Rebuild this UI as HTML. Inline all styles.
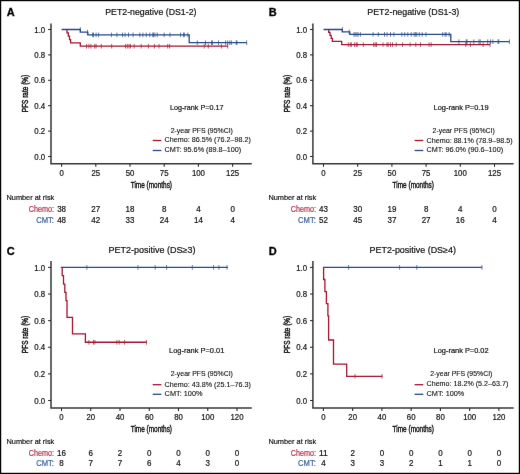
<!DOCTYPE html>
<html><head><meta charset="utf-8"><style>
html,body{margin:0;padding:0;background:#fff;}
#fig{position:relative;width:520px;height:474px;overflow:hidden;background:#fff;}
svg{position:absolute;left:0;top:0;will-change:transform;}
svg text{font-family:"Liberation Sans", sans-serif;}
</style></head><body><div id="fig">
<svg width="520" height="474" viewBox="0 0 520 474">
<defs><filter id="bl" x="0" y="0" width="1" height="1" filterUnits="objectBoundingBox" color-interpolation-filters="sRGB"><feConvolveMatrix order="3" kernelMatrix="0.00163 0.03713 0.00163 0.03713 0.84497 0.03713 0.00163 0.03713 0.00163" divisor="1" edgeMode="duplicate" preserveAlpha="true"/></filter></defs>
<g filter="url(#bl)">
<rect x="0" y="0" width="520" height="474" fill="#fff"/>
<rect x="0.6" y="0.6" width="518.8" height="472.8" fill="none" stroke="#000" stroke-width="1.2"/>
<text x="6.80" y="15.60" font-size="11" fill="#000" text-anchor="start" stroke="#000" stroke-width="0.3" font-weight="bold">A</text>
<text x="105.20" y="15.00" font-size="8.6" fill="#111" text-anchor="start" stroke="#111" stroke-width="0.2" textLength="91.30" lengthAdjust="spacingAndGlyphs">PET2-negative (DS1-2)</text>
<path d="M51.00,23.50 V163.75 H251.75" fill="none" stroke="#383838" stroke-width="1.5" stroke-linejoin="miter" stroke-linecap="butt"/>
<line x1="48.10" y1="156.50" x2="51.00" y2="156.50" stroke="#252525" stroke-width="1.05"/>
<text x="45.20" y="159.60" font-size="8.4" fill="#111" text-anchor="end" stroke="#111" stroke-width="0.2" textLength="10.90" lengthAdjust="spacingAndGlyphs">0.0</text>
<line x1="48.10" y1="131.10" x2="51.00" y2="131.10" stroke="#252525" stroke-width="1.05"/>
<text x="45.20" y="134.20" font-size="8.4" fill="#111" text-anchor="end" stroke="#111" stroke-width="0.2" textLength="10.90" lengthAdjust="spacingAndGlyphs">0.2</text>
<line x1="48.10" y1="105.70" x2="51.00" y2="105.70" stroke="#252525" stroke-width="1.05"/>
<text x="45.20" y="108.80" font-size="8.4" fill="#111" text-anchor="end" stroke="#111" stroke-width="0.2" textLength="10.90" lengthAdjust="spacingAndGlyphs">0.4</text>
<line x1="48.10" y1="80.30" x2="51.00" y2="80.30" stroke="#252525" stroke-width="1.05"/>
<text x="45.20" y="83.40" font-size="8.4" fill="#111" text-anchor="end" stroke="#111" stroke-width="0.2" textLength="10.90" lengthAdjust="spacingAndGlyphs">0.6</text>
<line x1="48.10" y1="54.90" x2="51.00" y2="54.90" stroke="#252525" stroke-width="1.05"/>
<text x="45.20" y="58.00" font-size="8.4" fill="#111" text-anchor="end" stroke="#111" stroke-width="0.2" textLength="10.90" lengthAdjust="spacingAndGlyphs">0.8</text>
<line x1="48.10" y1="29.50" x2="51.00" y2="29.50" stroke="#252525" stroke-width="1.05"/>
<text x="45.20" y="32.60" font-size="8.4" fill="#111" text-anchor="end" stroke="#111" stroke-width="0.2" textLength="10.90" lengthAdjust="spacingAndGlyphs">1.0</text>
<line x1="61.60" y1="163.75" x2="61.60" y2="166.85" stroke="#252525" stroke-width="1.05"/>
<text x="61.60" y="175.70" font-size="8.4" fill="#111" text-anchor="middle" stroke="#111" stroke-width="0.2" textLength="4.35" lengthAdjust="spacingAndGlyphs">0</text>
<line x1="95.80" y1="163.75" x2="95.80" y2="166.85" stroke="#252525" stroke-width="1.05"/>
<text x="95.80" y="175.70" font-size="8.4" fill="#111" text-anchor="middle" stroke="#111" stroke-width="0.2" textLength="8.70" lengthAdjust="spacingAndGlyphs">25</text>
<line x1="130.00" y1="163.75" x2="130.00" y2="166.85" stroke="#252525" stroke-width="1.05"/>
<text x="130.00" y="175.70" font-size="8.4" fill="#111" text-anchor="middle" stroke="#111" stroke-width="0.2" textLength="8.70" lengthAdjust="spacingAndGlyphs">50</text>
<line x1="164.20" y1="163.75" x2="164.20" y2="166.85" stroke="#252525" stroke-width="1.05"/>
<text x="164.20" y="175.70" font-size="8.4" fill="#111" text-anchor="middle" stroke="#111" stroke-width="0.2" textLength="8.70" lengthAdjust="spacingAndGlyphs">75</text>
<line x1="198.40" y1="163.75" x2="198.40" y2="166.85" stroke="#252525" stroke-width="1.05"/>
<text x="198.40" y="175.70" font-size="8.4" fill="#111" text-anchor="middle" stroke="#111" stroke-width="0.2" textLength="13.05" lengthAdjust="spacingAndGlyphs">100</text>
<line x1="232.60" y1="163.75" x2="232.60" y2="166.85" stroke="#252525" stroke-width="1.05"/>
<text x="232.60" y="175.70" font-size="8.4" fill="#111" text-anchor="middle" stroke="#111" stroke-width="0.2" textLength="13.05" lengthAdjust="spacingAndGlyphs">125</text>
<text x="151.38" y="188.00" font-size="9.0" fill="#111" text-anchor="middle" stroke="#111" stroke-width="0.42" textLength="41.30" lengthAdjust="spacingAndGlyphs">Time (months)</text>
<text x="0" y="0" font-size="9.2" fill="#111" stroke="#111" stroke-width="0.45" text-anchor="middle" textLength="37.4" lengthAdjust="spacingAndGlyphs" transform="translate(27.60,93.50) rotate(-90)">PFS rate (%)</text>
<path d="M67.00,29.50 H67.00 V32.84 H68.30 V36.18 H69.50 V39.53 H70.60 V42.87 H80.30 V46.21 H227.70" fill="none" stroke="#a3142f" stroke-width="1.3" stroke-linejoin="miter" stroke-linecap="butt"/>
<line x1="86.60" y1="43.86" x2="86.60" y2="48.56" stroke="#a3142f" stroke-width="0.7"/>
<line x1="88.90" y1="43.86" x2="88.90" y2="48.56" stroke="#a3142f" stroke-width="0.7"/>
<line x1="90.90" y1="43.86" x2="90.90" y2="48.56" stroke="#a3142f" stroke-width="0.7"/>
<line x1="94.70" y1="43.86" x2="94.70" y2="48.56" stroke="#a3142f" stroke-width="0.7"/>
<line x1="96.10" y1="43.86" x2="96.10" y2="48.56" stroke="#a3142f" stroke-width="0.7"/>
<line x1="101.30" y1="43.86" x2="101.30" y2="48.56" stroke="#a3142f" stroke-width="0.7"/>
<line x1="111.70" y1="43.86" x2="111.70" y2="48.56" stroke="#a3142f" stroke-width="0.7"/>
<line x1="125.60" y1="43.86" x2="125.60" y2="48.56" stroke="#a3142f" stroke-width="0.7"/>
<line x1="127.30" y1="43.86" x2="127.30" y2="48.56" stroke="#a3142f" stroke-width="0.7"/>
<line x1="129.00" y1="43.86" x2="129.00" y2="48.56" stroke="#a3142f" stroke-width="0.7"/>
<line x1="130.50" y1="43.86" x2="130.50" y2="48.56" stroke="#a3142f" stroke-width="0.7"/>
<line x1="134.20" y1="43.86" x2="134.20" y2="48.56" stroke="#a3142f" stroke-width="0.7"/>
<line x1="141.20" y1="43.86" x2="141.20" y2="48.56" stroke="#a3142f" stroke-width="0.7"/>
<line x1="148.40" y1="43.86" x2="148.40" y2="48.56" stroke="#a3142f" stroke-width="0.7"/>
<line x1="154.40" y1="43.86" x2="154.40" y2="48.56" stroke="#a3142f" stroke-width="0.7"/>
<line x1="159.00" y1="43.86" x2="159.00" y2="48.56" stroke="#a3142f" stroke-width="0.7"/>
<line x1="167.70" y1="43.86" x2="167.70" y2="48.56" stroke="#a3142f" stroke-width="0.7"/>
<line x1="169.60" y1="43.86" x2="169.60" y2="48.56" stroke="#a3142f" stroke-width="0.7"/>
<line x1="204.20" y1="43.86" x2="204.20" y2="48.56" stroke="#a3142f" stroke-width="0.7"/>
<line x1="208.30" y1="43.86" x2="208.30" y2="48.56" stroke="#a3142f" stroke-width="0.7"/>
<line x1="221.40" y1="43.86" x2="221.40" y2="48.56" stroke="#a3142f" stroke-width="0.7"/>
<line x1="227.70" y1="43.86" x2="227.70" y2="48.56" stroke="#a3142f" stroke-width="0.7"/>
<path d="M61.60,29.50 H80.30 V32.15 H87.80 V34.85 H189.20 V42.71 H246.70" fill="none" stroke="#264a86" stroke-width="1.3" stroke-linejoin="miter" stroke-linecap="butt"/>
<line x1="80.30" y1="27.15" x2="80.30" y2="31.85" stroke="#264a86" stroke-width="0.7"/>
<line x1="87.40" y1="29.80" x2="87.40" y2="34.50" stroke="#264a86" stroke-width="0.7"/>
<line x1="92.60" y1="32.50" x2="92.60" y2="37.20" stroke="#264a86" stroke-width="0.7"/>
<line x1="93.50" y1="32.50" x2="93.50" y2="37.20" stroke="#264a86" stroke-width="0.7"/>
<line x1="96.10" y1="32.50" x2="96.10" y2="37.20" stroke="#264a86" stroke-width="0.7"/>
<line x1="98.60" y1="32.50" x2="98.60" y2="37.20" stroke="#264a86" stroke-width="0.7"/>
<line x1="111.40" y1="32.50" x2="111.40" y2="37.20" stroke="#264a86" stroke-width="0.7"/>
<line x1="116.90" y1="32.50" x2="116.90" y2="37.20" stroke="#264a86" stroke-width="0.7"/>
<line x1="122.50" y1="32.50" x2="122.50" y2="37.20" stroke="#264a86" stroke-width="0.7"/>
<line x1="125.00" y1="32.50" x2="125.00" y2="37.20" stroke="#264a86" stroke-width="0.7"/>
<line x1="128.50" y1="32.50" x2="128.50" y2="37.20" stroke="#264a86" stroke-width="0.7"/>
<line x1="133.10" y1="32.50" x2="133.10" y2="37.20" stroke="#264a86" stroke-width="0.7"/>
<line x1="139.80" y1="32.50" x2="139.80" y2="37.20" stroke="#264a86" stroke-width="0.7"/>
<line x1="142.90" y1="32.50" x2="142.90" y2="37.20" stroke="#264a86" stroke-width="0.7"/>
<line x1="146.30" y1="32.50" x2="146.30" y2="37.20" stroke="#264a86" stroke-width="0.7"/>
<line x1="149.80" y1="32.50" x2="149.80" y2="37.20" stroke="#264a86" stroke-width="0.7"/>
<line x1="152.70" y1="32.50" x2="152.70" y2="37.20" stroke="#264a86" stroke-width="0.7"/>
<line x1="153.60" y1="32.50" x2="153.60" y2="37.20" stroke="#264a86" stroke-width="0.7"/>
<line x1="155.00" y1="32.50" x2="155.00" y2="37.20" stroke="#264a86" stroke-width="0.7"/>
<line x1="157.30" y1="32.50" x2="157.30" y2="37.20" stroke="#264a86" stroke-width="0.7"/>
<line x1="164.20" y1="32.50" x2="164.20" y2="37.20" stroke="#264a86" stroke-width="0.7"/>
<line x1="170.00" y1="32.50" x2="170.00" y2="37.20" stroke="#264a86" stroke-width="0.7"/>
<line x1="180.60" y1="32.50" x2="180.60" y2="37.20" stroke="#264a86" stroke-width="0.7"/>
<line x1="183.50" y1="32.50" x2="183.50" y2="37.20" stroke="#264a86" stroke-width="0.7"/>
<line x1="184.40" y1="32.50" x2="184.40" y2="37.20" stroke="#264a86" stroke-width="0.7"/>
<line x1="187.80" y1="32.50" x2="187.80" y2="37.20" stroke="#264a86" stroke-width="0.7"/>
<line x1="197.30" y1="40.36" x2="197.30" y2="45.06" stroke="#264a86" stroke-width="0.7"/>
<line x1="205.50" y1="40.36" x2="205.50" y2="45.06" stroke="#264a86" stroke-width="0.7"/>
<line x1="211.50" y1="40.36" x2="211.50" y2="45.06" stroke="#264a86" stroke-width="0.7"/>
<line x1="212.50" y1="40.36" x2="212.50" y2="45.06" stroke="#264a86" stroke-width="0.7"/>
<line x1="218.50" y1="40.36" x2="218.50" y2="45.06" stroke="#264a86" stroke-width="0.7"/>
<line x1="225.60" y1="40.36" x2="225.60" y2="45.06" stroke="#264a86" stroke-width="0.7"/>
<line x1="227.70" y1="40.36" x2="227.70" y2="45.06" stroke="#264a86" stroke-width="0.7"/>
<line x1="229.80" y1="40.36" x2="229.80" y2="45.06" stroke="#264a86" stroke-width="0.7"/>
<line x1="231.40" y1="40.36" x2="231.40" y2="45.06" stroke="#264a86" stroke-width="0.7"/>
<line x1="236.30" y1="40.36" x2="236.30" y2="45.06" stroke="#264a86" stroke-width="0.7"/>
<line x1="236.90" y1="40.36" x2="236.90" y2="45.06" stroke="#264a86" stroke-width="0.7"/>
<line x1="246.70" y1="40.36" x2="246.70" y2="45.06" stroke="#264a86" stroke-width="0.7"/>
<text x="169.90" y="109.80" font-size="7.6" fill="#111" text-anchor="start" stroke="#111" stroke-width="0.2" textLength="53.70" lengthAdjust="spacingAndGlyphs">Log-rank P=0.17</text>
<text x="170.70" y="132.60" font-size="7.6" fill="#111" text-anchor="start" stroke="#111" stroke-width="0.12" textLength="62.20" lengthAdjust="spacingAndGlyphs">2-year PFS (95%CI)</text>
<line x1="152.70" y1="140.50" x2="161.40" y2="140.50" stroke="#a3142f" stroke-width="1.3"/>
<line x1="152.70" y1="150.50" x2="161.40" y2="150.50" stroke="#264a86" stroke-width="1.3"/>
<text x="164.60" y="142.20" font-size="7.9" fill="#111" text-anchor="start" stroke="#111" stroke-width="0.12" textLength="86.20" lengthAdjust="spacingAndGlyphs">Chemo: 86.5% (76.2–98.2)</text>
<text x="164.60" y="152.20" font-size="7.9" fill="#111" text-anchor="start" stroke="#111" stroke-width="0.12" textLength="76.60" lengthAdjust="spacingAndGlyphs">CMT: 95.6% (89.8–100)</text>
<text x="6.50" y="199.80" font-size="8.1" fill="#111" text-anchor="start" stroke="#111" stroke-width="0.2" textLength="47.80" lengthAdjust="spacingAndGlyphs">Number at risk</text>
<text x="54.00" y="211.80" font-size="8.2" fill="#b8304e" text-anchor="end" stroke="#b8304e" stroke-width="0.2" textLength="25.20" lengthAdjust="spacingAndGlyphs">Chemo:</text>
<text x="54.00" y="222.80" font-size="8.2" fill="#3b62a0" text-anchor="end" stroke="#3b62a0" stroke-width="0.2" textLength="17.80" lengthAdjust="spacingAndGlyphs">CMT:</text>
<text x="61.60" y="211.80" font-size="8.2" fill="#111" text-anchor="middle" stroke="#111" stroke-width="0.2" textLength="8.90" lengthAdjust="spacingAndGlyphs">38</text>
<text x="61.60" y="222.80" font-size="8.2" fill="#111" text-anchor="middle" stroke="#111" stroke-width="0.2" textLength="8.90" lengthAdjust="spacingAndGlyphs">48</text>
<text x="95.80" y="211.80" font-size="8.2" fill="#111" text-anchor="middle" stroke="#111" stroke-width="0.2" textLength="8.90" lengthAdjust="spacingAndGlyphs">27</text>
<text x="95.80" y="222.80" font-size="8.2" fill="#111" text-anchor="middle" stroke="#111" stroke-width="0.2" textLength="8.90" lengthAdjust="spacingAndGlyphs">42</text>
<text x="130.00" y="211.80" font-size="8.2" fill="#111" text-anchor="middle" stroke="#111" stroke-width="0.2" textLength="8.90" lengthAdjust="spacingAndGlyphs">18</text>
<text x="130.00" y="222.80" font-size="8.2" fill="#111" text-anchor="middle" stroke="#111" stroke-width="0.2" textLength="8.90" lengthAdjust="spacingAndGlyphs">33</text>
<text x="164.20" y="211.80" font-size="8.2" fill="#111" text-anchor="middle" stroke="#111" stroke-width="0.2" textLength="4.45" lengthAdjust="spacingAndGlyphs">8</text>
<text x="164.20" y="222.80" font-size="8.2" fill="#111" text-anchor="middle" stroke="#111" stroke-width="0.2" textLength="8.90" lengthAdjust="spacingAndGlyphs">24</text>
<text x="198.40" y="211.80" font-size="8.2" fill="#111" text-anchor="middle" stroke="#111" stroke-width="0.2" textLength="4.45" lengthAdjust="spacingAndGlyphs">4</text>
<text x="198.40" y="222.80" font-size="8.2" fill="#111" text-anchor="middle" stroke="#111" stroke-width="0.2" textLength="8.90" lengthAdjust="spacingAndGlyphs">14</text>
<text x="232.60" y="211.80" font-size="8.2" fill="#111" text-anchor="middle" stroke="#111" stroke-width="0.2" textLength="4.45" lengthAdjust="spacingAndGlyphs">0</text>
<text x="232.60" y="222.80" font-size="8.2" fill="#111" text-anchor="middle" stroke="#111" stroke-width="0.2" textLength="4.45" lengthAdjust="spacingAndGlyphs">4</text>
<text x="268.70" y="15.60" font-size="11" fill="#000" text-anchor="start" stroke="#000" stroke-width="0.3" font-weight="bold">B</text>
<text x="367.30" y="15.00" font-size="8.6" fill="#111" text-anchor="start" stroke="#111" stroke-width="0.2" textLength="92.00" lengthAdjust="spacingAndGlyphs">PET2-negative (DS1-3)</text>
<path d="M312.90,23.50 V163.75 H513.65" fill="none" stroke="#383838" stroke-width="1.5" stroke-linejoin="miter" stroke-linecap="butt"/>
<line x1="310.00" y1="156.50" x2="312.90" y2="156.50" stroke="#252525" stroke-width="1.05"/>
<text x="307.10" y="159.60" font-size="8.4" fill="#111" text-anchor="end" stroke="#111" stroke-width="0.2" textLength="10.90" lengthAdjust="spacingAndGlyphs">0.0</text>
<line x1="310.00" y1="131.10" x2="312.90" y2="131.10" stroke="#252525" stroke-width="1.05"/>
<text x="307.10" y="134.20" font-size="8.4" fill="#111" text-anchor="end" stroke="#111" stroke-width="0.2" textLength="10.90" lengthAdjust="spacingAndGlyphs">0.2</text>
<line x1="310.00" y1="105.70" x2="312.90" y2="105.70" stroke="#252525" stroke-width="1.05"/>
<text x="307.10" y="108.80" font-size="8.4" fill="#111" text-anchor="end" stroke="#111" stroke-width="0.2" textLength="10.90" lengthAdjust="spacingAndGlyphs">0.4</text>
<line x1="310.00" y1="80.30" x2="312.90" y2="80.30" stroke="#252525" stroke-width="1.05"/>
<text x="307.10" y="83.40" font-size="8.4" fill="#111" text-anchor="end" stroke="#111" stroke-width="0.2" textLength="10.90" lengthAdjust="spacingAndGlyphs">0.6</text>
<line x1="310.00" y1="54.90" x2="312.90" y2="54.90" stroke="#252525" stroke-width="1.05"/>
<text x="307.10" y="58.00" font-size="8.4" fill="#111" text-anchor="end" stroke="#111" stroke-width="0.2" textLength="10.90" lengthAdjust="spacingAndGlyphs">0.8</text>
<line x1="310.00" y1="29.50" x2="312.90" y2="29.50" stroke="#252525" stroke-width="1.05"/>
<text x="307.10" y="32.60" font-size="8.4" fill="#111" text-anchor="end" stroke="#111" stroke-width="0.2" textLength="10.90" lengthAdjust="spacingAndGlyphs">1.0</text>
<line x1="323.50" y1="163.75" x2="323.50" y2="166.85" stroke="#252525" stroke-width="1.05"/>
<text x="323.50" y="175.70" font-size="8.4" fill="#111" text-anchor="middle" stroke="#111" stroke-width="0.2" textLength="4.35" lengthAdjust="spacingAndGlyphs">0</text>
<line x1="357.70" y1="163.75" x2="357.70" y2="166.85" stroke="#252525" stroke-width="1.05"/>
<text x="357.70" y="175.70" font-size="8.4" fill="#111" text-anchor="middle" stroke="#111" stroke-width="0.2" textLength="8.70" lengthAdjust="spacingAndGlyphs">25</text>
<line x1="391.90" y1="163.75" x2="391.90" y2="166.85" stroke="#252525" stroke-width="1.05"/>
<text x="391.90" y="175.70" font-size="8.4" fill="#111" text-anchor="middle" stroke="#111" stroke-width="0.2" textLength="8.70" lengthAdjust="spacingAndGlyphs">50</text>
<line x1="426.10" y1="163.75" x2="426.10" y2="166.85" stroke="#252525" stroke-width="1.05"/>
<text x="426.10" y="175.70" font-size="8.4" fill="#111" text-anchor="middle" stroke="#111" stroke-width="0.2" textLength="8.70" lengthAdjust="spacingAndGlyphs">75</text>
<line x1="460.30" y1="163.75" x2="460.30" y2="166.85" stroke="#252525" stroke-width="1.05"/>
<text x="460.30" y="175.70" font-size="8.4" fill="#111" text-anchor="middle" stroke="#111" stroke-width="0.2" textLength="13.05" lengthAdjust="spacingAndGlyphs">100</text>
<line x1="494.50" y1="163.75" x2="494.50" y2="166.85" stroke="#252525" stroke-width="1.05"/>
<text x="494.50" y="175.70" font-size="8.4" fill="#111" text-anchor="middle" stroke="#111" stroke-width="0.2" textLength="13.05" lengthAdjust="spacingAndGlyphs">125</text>
<text x="413.27" y="188.00" font-size="9.0" fill="#111" text-anchor="middle" stroke="#111" stroke-width="0.42" textLength="41.30" lengthAdjust="spacingAndGlyphs">Time (months)</text>
<text x="0" y="0" font-size="9.2" fill="#111" stroke="#111" stroke-width="0.45" text-anchor="middle" textLength="37.4" lengthAdjust="spacingAndGlyphs" transform="translate(289.50,93.50) rotate(-90)">PFS rate (%)</text>
<path d="M328.70,29.50 H328.70 V32.45 H330.00 V35.41 H331.20 V38.36 H332.40 V41.31 H341.70 V44.61 H490.00" fill="none" stroke="#a3142f" stroke-width="1.3" stroke-linejoin="miter" stroke-linecap="butt"/>
<line x1="348.30" y1="42.26" x2="348.30" y2="46.96" stroke="#a3142f" stroke-width="0.7"/>
<line x1="350.20" y1="42.26" x2="350.20" y2="46.96" stroke="#a3142f" stroke-width="0.7"/>
<line x1="351.40" y1="42.26" x2="351.40" y2="46.96" stroke="#a3142f" stroke-width="0.7"/>
<line x1="354.60" y1="42.26" x2="354.60" y2="46.96" stroke="#a3142f" stroke-width="0.7"/>
<line x1="356.30" y1="42.26" x2="356.30" y2="46.96" stroke="#a3142f" stroke-width="0.7"/>
<line x1="357.20" y1="42.26" x2="357.20" y2="46.96" stroke="#a3142f" stroke-width="0.7"/>
<line x1="363.30" y1="42.26" x2="363.30" y2="46.96" stroke="#a3142f" stroke-width="0.7"/>
<line x1="373.70" y1="42.26" x2="373.70" y2="46.96" stroke="#a3142f" stroke-width="0.7"/>
<line x1="375.20" y1="42.26" x2="375.20" y2="46.96" stroke="#a3142f" stroke-width="0.7"/>
<line x1="376.50" y1="42.26" x2="376.50" y2="46.96" stroke="#a3142f" stroke-width="0.7"/>
<line x1="383.00" y1="42.26" x2="383.00" y2="46.96" stroke="#a3142f" stroke-width="0.7"/>
<line x1="387.00" y1="42.26" x2="387.00" y2="46.96" stroke="#a3142f" stroke-width="0.7"/>
<line x1="388.20" y1="42.26" x2="388.20" y2="46.96" stroke="#a3142f" stroke-width="0.7"/>
<line x1="390.50" y1="42.26" x2="390.50" y2="46.96" stroke="#a3142f" stroke-width="0.7"/>
<line x1="392.50" y1="42.26" x2="392.50" y2="46.96" stroke="#a3142f" stroke-width="0.7"/>
<line x1="396.20" y1="42.26" x2="396.20" y2="46.96" stroke="#a3142f" stroke-width="0.7"/>
<line x1="402.60" y1="42.26" x2="402.60" y2="46.96" stroke="#a3142f" stroke-width="0.7"/>
<line x1="410.10" y1="42.26" x2="410.10" y2="46.96" stroke="#a3142f" stroke-width="0.7"/>
<line x1="415.80" y1="42.26" x2="415.80" y2="46.96" stroke="#a3142f" stroke-width="0.7"/>
<line x1="420.50" y1="42.26" x2="420.50" y2="46.96" stroke="#a3142f" stroke-width="0.7"/>
<line x1="429.10" y1="42.26" x2="429.10" y2="46.96" stroke="#a3142f" stroke-width="0.7"/>
<line x1="431.20" y1="42.26" x2="431.20" y2="46.96" stroke="#a3142f" stroke-width="0.7"/>
<line x1="465.80" y1="42.26" x2="465.80" y2="46.96" stroke="#a3142f" stroke-width="0.7"/>
<line x1="470.40" y1="42.26" x2="470.40" y2="46.96" stroke="#a3142f" stroke-width="0.7"/>
<line x1="483.10" y1="42.26" x2="483.10" y2="46.96" stroke="#a3142f" stroke-width="0.7"/>
<line x1="490.00" y1="42.26" x2="490.00" y2="46.96" stroke="#a3142f" stroke-width="0.7"/>
<path d="M323.50,29.50 H342.30 V31.94 H349.80 V34.43 H450.80 V41.69 H509.40" fill="none" stroke="#264a86" stroke-width="1.3" stroke-linejoin="miter" stroke-linecap="butt"/>
<line x1="342.30" y1="27.15" x2="342.30" y2="31.85" stroke="#264a86" stroke-width="0.7"/>
<line x1="349.20" y1="29.59" x2="349.20" y2="34.29" stroke="#264a86" stroke-width="0.7"/>
<line x1="354.00" y1="32.08" x2="354.00" y2="36.78" stroke="#264a86" stroke-width="0.7"/>
<line x1="355.20" y1="32.08" x2="355.20" y2="36.78" stroke="#264a86" stroke-width="0.7"/>
<line x1="356.90" y1="32.08" x2="356.90" y2="36.78" stroke="#264a86" stroke-width="0.7"/>
<line x1="358.10" y1="32.08" x2="358.10" y2="36.78" stroke="#264a86" stroke-width="0.7"/>
<line x1="360.40" y1="32.08" x2="360.40" y2="36.78" stroke="#264a86" stroke-width="0.7"/>
<line x1="373.10" y1="32.08" x2="373.10" y2="36.78" stroke="#264a86" stroke-width="0.7"/>
<line x1="378.30" y1="32.08" x2="378.30" y2="36.78" stroke="#264a86" stroke-width="0.7"/>
<line x1="384.50" y1="32.08" x2="384.50" y2="36.78" stroke="#264a86" stroke-width="0.7"/>
<line x1="387.00" y1="32.08" x2="387.00" y2="36.78" stroke="#264a86" stroke-width="0.7"/>
<line x1="390.50" y1="32.08" x2="390.50" y2="36.78" stroke="#264a86" stroke-width="0.7"/>
<line x1="393.90" y1="32.08" x2="393.90" y2="36.78" stroke="#264a86" stroke-width="0.7"/>
<line x1="401.80" y1="32.08" x2="401.80" y2="36.78" stroke="#264a86" stroke-width="0.7"/>
<line x1="404.70" y1="32.08" x2="404.70" y2="36.78" stroke="#264a86" stroke-width="0.7"/>
<line x1="407.80" y1="32.08" x2="407.80" y2="36.78" stroke="#264a86" stroke-width="0.7"/>
<line x1="411.20" y1="32.08" x2="411.20" y2="36.78" stroke="#264a86" stroke-width="0.7"/>
<line x1="414.10" y1="32.08" x2="414.10" y2="36.78" stroke="#264a86" stroke-width="0.7"/>
<line x1="415.60" y1="32.08" x2="415.60" y2="36.78" stroke="#264a86" stroke-width="0.7"/>
<line x1="416.80" y1="32.08" x2="416.80" y2="36.78" stroke="#264a86" stroke-width="0.7"/>
<line x1="419.30" y1="32.08" x2="419.30" y2="36.78" stroke="#264a86" stroke-width="0.7"/>
<line x1="422.20" y1="32.08" x2="422.20" y2="36.78" stroke="#264a86" stroke-width="0.7"/>
<line x1="426.00" y1="32.08" x2="426.00" y2="36.78" stroke="#264a86" stroke-width="0.7"/>
<line x1="442.70" y1="32.08" x2="442.70" y2="36.78" stroke="#264a86" stroke-width="0.7"/>
<line x1="445.00" y1="32.08" x2="445.00" y2="36.78" stroke="#264a86" stroke-width="0.7"/>
<line x1="446.20" y1="32.08" x2="446.20" y2="36.78" stroke="#264a86" stroke-width="0.7"/>
<line x1="449.10" y1="32.08" x2="449.10" y2="36.78" stroke="#264a86" stroke-width="0.7"/>
<line x1="458.90" y1="39.34" x2="458.90" y2="44.04" stroke="#264a86" stroke-width="0.7"/>
<line x1="466.30" y1="39.34" x2="466.30" y2="44.04" stroke="#264a86" stroke-width="0.7"/>
<line x1="467.00" y1="39.34" x2="467.00" y2="44.04" stroke="#264a86" stroke-width="0.7"/>
<line x1="473.80" y1="39.34" x2="473.80" y2="44.04" stroke="#264a86" stroke-width="0.7"/>
<line x1="479.00" y1="39.34" x2="479.00" y2="44.04" stroke="#264a86" stroke-width="0.7"/>
<line x1="480.20" y1="39.34" x2="480.20" y2="44.04" stroke="#264a86" stroke-width="0.7"/>
<line x1="487.70" y1="39.34" x2="487.70" y2="44.04" stroke="#264a86" stroke-width="0.7"/>
<line x1="490.60" y1="39.34" x2="490.60" y2="44.04" stroke="#264a86" stroke-width="0.7"/>
<line x1="492.90" y1="39.34" x2="492.90" y2="44.04" stroke="#264a86" stroke-width="0.7"/>
<line x1="498.10" y1="39.34" x2="498.10" y2="44.04" stroke="#264a86" stroke-width="0.7"/>
<line x1="498.70" y1="39.34" x2="498.70" y2="44.04" stroke="#264a86" stroke-width="0.7"/>
<line x1="509.40" y1="39.34" x2="509.40" y2="44.04" stroke="#264a86" stroke-width="0.7"/>
<text x="433.60" y="109.80" font-size="7.6" fill="#111" text-anchor="start" stroke="#111" stroke-width="0.2" textLength="55.00" lengthAdjust="spacingAndGlyphs">Log-rank P=0.19</text>
<text x="432.60" y="132.60" font-size="7.6" fill="#111" text-anchor="start" stroke="#111" stroke-width="0.12" textLength="62.20" lengthAdjust="spacingAndGlyphs">2-year PFS (95%CI)</text>
<line x1="414.60" y1="140.50" x2="423.30" y2="140.50" stroke="#a3142f" stroke-width="1.3"/>
<line x1="414.60" y1="150.50" x2="423.30" y2="150.50" stroke="#264a86" stroke-width="1.3"/>
<text x="426.50" y="142.60" font-size="7.9" fill="#111" text-anchor="start" stroke="#111" stroke-width="0.12" textLength="86.20" lengthAdjust="spacingAndGlyphs">Chemo: 88.1% (78.9–98.5)</text>
<text x="426.50" y="152.20" font-size="7.9" fill="#111" text-anchor="start" stroke="#111" stroke-width="0.12" textLength="76.60" lengthAdjust="spacingAndGlyphs">CMT: 96.0% (90.6–100)</text>
<text x="268.40" y="199.80" font-size="8.1" fill="#111" text-anchor="start" stroke="#111" stroke-width="0.2" textLength="47.80" lengthAdjust="spacingAndGlyphs">Number at risk</text>
<text x="315.90" y="211.80" font-size="8.2" fill="#b8304e" text-anchor="end" stroke="#b8304e" stroke-width="0.2" textLength="25.20" lengthAdjust="spacingAndGlyphs">Chemo:</text>
<text x="315.90" y="222.80" font-size="8.2" fill="#3b62a0" text-anchor="end" stroke="#3b62a0" stroke-width="0.2" textLength="17.80" lengthAdjust="spacingAndGlyphs">CMT:</text>
<text x="323.50" y="211.80" font-size="8.2" fill="#111" text-anchor="middle" stroke="#111" stroke-width="0.2" textLength="8.90" lengthAdjust="spacingAndGlyphs">43</text>
<text x="323.50" y="222.80" font-size="8.2" fill="#111" text-anchor="middle" stroke="#111" stroke-width="0.2" textLength="8.90" lengthAdjust="spacingAndGlyphs">52</text>
<text x="357.70" y="211.80" font-size="8.2" fill="#111" text-anchor="middle" stroke="#111" stroke-width="0.2" textLength="8.90" lengthAdjust="spacingAndGlyphs">30</text>
<text x="357.70" y="222.80" font-size="8.2" fill="#111" text-anchor="middle" stroke="#111" stroke-width="0.2" textLength="8.90" lengthAdjust="spacingAndGlyphs">45</text>
<text x="391.90" y="211.80" font-size="8.2" fill="#111" text-anchor="middle" stroke="#111" stroke-width="0.2" textLength="8.90" lengthAdjust="spacingAndGlyphs">19</text>
<text x="391.90" y="222.80" font-size="8.2" fill="#111" text-anchor="middle" stroke="#111" stroke-width="0.2" textLength="8.90" lengthAdjust="spacingAndGlyphs">37</text>
<text x="426.10" y="211.80" font-size="8.2" fill="#111" text-anchor="middle" stroke="#111" stroke-width="0.2" textLength="4.45" lengthAdjust="spacingAndGlyphs">8</text>
<text x="426.10" y="222.80" font-size="8.2" fill="#111" text-anchor="middle" stroke="#111" stroke-width="0.2" textLength="8.90" lengthAdjust="spacingAndGlyphs">27</text>
<text x="460.30" y="211.80" font-size="8.2" fill="#111" text-anchor="middle" stroke="#111" stroke-width="0.2" textLength="4.45" lengthAdjust="spacingAndGlyphs">4</text>
<text x="460.30" y="222.80" font-size="8.2" fill="#111" text-anchor="middle" stroke="#111" stroke-width="0.2" textLength="8.90" lengthAdjust="spacingAndGlyphs">16</text>
<text x="494.50" y="211.80" font-size="8.2" fill="#111" text-anchor="middle" stroke="#111" stroke-width="0.2" textLength="4.45" lengthAdjust="spacingAndGlyphs">0</text>
<text x="494.50" y="222.80" font-size="8.2" fill="#111" text-anchor="middle" stroke="#111" stroke-width="0.2" textLength="4.45" lengthAdjust="spacingAndGlyphs">4</text>
<text x="6.80" y="254.90" font-size="11" fill="#000" text-anchor="start" stroke="#000" stroke-width="0.3" font-weight="bold">C</text>
<text x="108.40" y="253.10" font-size="8.6" fill="#111" text-anchor="start" stroke="#111" stroke-width="0.2" textLength="87.00" lengthAdjust="spacingAndGlyphs">PET2-positive (DS≥3)</text>
<path d="M51.00,261.00 V408.00 H251.75" fill="none" stroke="#383838" stroke-width="1.5" stroke-linejoin="miter" stroke-linecap="butt"/>
<line x1="48.10" y1="400.50" x2="51.00" y2="400.50" stroke="#252525" stroke-width="1.05"/>
<text x="45.20" y="403.60" font-size="8.4" fill="#111" text-anchor="end" stroke="#111" stroke-width="0.2" textLength="10.90" lengthAdjust="spacingAndGlyphs">0.0</text>
<line x1="48.10" y1="373.88" x2="51.00" y2="373.88" stroke="#252525" stroke-width="1.05"/>
<text x="45.20" y="376.98" font-size="8.4" fill="#111" text-anchor="end" stroke="#111" stroke-width="0.2" textLength="10.90" lengthAdjust="spacingAndGlyphs">0.2</text>
<line x1="48.10" y1="347.26" x2="51.00" y2="347.26" stroke="#252525" stroke-width="1.05"/>
<text x="45.20" y="350.36" font-size="8.4" fill="#111" text-anchor="end" stroke="#111" stroke-width="0.2" textLength="10.90" lengthAdjust="spacingAndGlyphs">0.4</text>
<line x1="48.10" y1="320.64" x2="51.00" y2="320.64" stroke="#252525" stroke-width="1.05"/>
<text x="45.20" y="323.74" font-size="8.4" fill="#111" text-anchor="end" stroke="#111" stroke-width="0.2" textLength="10.90" lengthAdjust="spacingAndGlyphs">0.6</text>
<line x1="48.10" y1="294.02" x2="51.00" y2="294.02" stroke="#252525" stroke-width="1.05"/>
<text x="45.20" y="297.12" font-size="8.4" fill="#111" text-anchor="end" stroke="#111" stroke-width="0.2" textLength="10.90" lengthAdjust="spacingAndGlyphs">0.8</text>
<line x1="48.10" y1="267.40" x2="51.00" y2="267.40" stroke="#252525" stroke-width="1.05"/>
<text x="45.20" y="270.50" font-size="8.4" fill="#111" text-anchor="end" stroke="#111" stroke-width="0.2" textLength="10.90" lengthAdjust="spacingAndGlyphs">1.0</text>
<line x1="61.50" y1="408.00" x2="61.50" y2="411.10" stroke="#252525" stroke-width="1.05"/>
<text x="61.50" y="419.50" font-size="8.4" fill="#111" text-anchor="middle" stroke="#111" stroke-width="0.2" textLength="4.35" lengthAdjust="spacingAndGlyphs">0</text>
<line x1="90.75" y1="408.00" x2="90.75" y2="411.10" stroke="#252525" stroke-width="1.05"/>
<text x="90.75" y="419.50" font-size="8.4" fill="#111" text-anchor="middle" stroke="#111" stroke-width="0.2" textLength="8.70" lengthAdjust="spacingAndGlyphs">20</text>
<line x1="120.00" y1="408.00" x2="120.00" y2="411.10" stroke="#252525" stroke-width="1.05"/>
<text x="120.00" y="419.50" font-size="8.4" fill="#111" text-anchor="middle" stroke="#111" stroke-width="0.2" textLength="8.70" lengthAdjust="spacingAndGlyphs">40</text>
<line x1="149.25" y1="408.00" x2="149.25" y2="411.10" stroke="#252525" stroke-width="1.05"/>
<text x="149.25" y="419.50" font-size="8.4" fill="#111" text-anchor="middle" stroke="#111" stroke-width="0.2" textLength="8.70" lengthAdjust="spacingAndGlyphs">60</text>
<line x1="178.50" y1="408.00" x2="178.50" y2="411.10" stroke="#252525" stroke-width="1.05"/>
<text x="178.50" y="419.50" font-size="8.4" fill="#111" text-anchor="middle" stroke="#111" stroke-width="0.2" textLength="8.70" lengthAdjust="spacingAndGlyphs">80</text>
<line x1="207.75" y1="408.00" x2="207.75" y2="411.10" stroke="#252525" stroke-width="1.05"/>
<text x="207.75" y="419.50" font-size="8.4" fill="#111" text-anchor="middle" stroke="#111" stroke-width="0.2" textLength="13.05" lengthAdjust="spacingAndGlyphs">100</text>
<line x1="237.00" y1="408.00" x2="237.00" y2="411.10" stroke="#252525" stroke-width="1.05"/>
<text x="237.00" y="419.50" font-size="8.4" fill="#111" text-anchor="middle" stroke="#111" stroke-width="0.2" textLength="13.05" lengthAdjust="spacingAndGlyphs">120</text>
<text x="151.38" y="431.80" font-size="9.0" fill="#111" text-anchor="middle" stroke="#111" stroke-width="0.42" textLength="41.30" lengthAdjust="spacingAndGlyphs">Time (months)</text>
<text x="0" y="0" font-size="9.2" fill="#111" stroke="#111" stroke-width="0.45" text-anchor="middle" textLength="37.4" lengthAdjust="spacingAndGlyphs" transform="translate(27.60,334.45) rotate(-90)">PFS rate (%)</text>
<path d="M62.20,267.40 H62.20 V275.72 H63.50 V284.04 H64.80 V292.36 H66.00 V300.67 H67.00 V317.31 H72.50 V333.95 H85.40 V342.27 H146.50" fill="none" stroke="#a3142f" stroke-width="1.3" stroke-linejoin="miter" stroke-linecap="butt"/>
<line x1="88.90" y1="339.92" x2="88.90" y2="344.62" stroke="#a3142f" stroke-width="0.7"/>
<line x1="93.50" y1="339.92" x2="93.50" y2="344.62" stroke="#a3142f" stroke-width="0.7"/>
<line x1="94.90" y1="339.92" x2="94.90" y2="344.62" stroke="#a3142f" stroke-width="0.7"/>
<line x1="116.90" y1="339.92" x2="116.90" y2="344.62" stroke="#a3142f" stroke-width="0.7"/>
<line x1="119.20" y1="339.92" x2="119.20" y2="344.62" stroke="#a3142f" stroke-width="0.7"/>
<line x1="124.60" y1="339.92" x2="124.60" y2="344.62" stroke="#a3142f" stroke-width="0.7"/>
<line x1="146.50" y1="339.92" x2="146.50" y2="344.62" stroke="#a3142f" stroke-width="0.7"/>
<path d="M60.70,267.40 H227.80" fill="none" stroke="#264a86" stroke-width="1.3" stroke-linejoin="miter" stroke-linecap="butt"/>
<line x1="86.90" y1="265.05" x2="86.90" y2="269.75" stroke="#264a86" stroke-width="0.7"/>
<line x1="138.00" y1="265.05" x2="138.00" y2="269.75" stroke="#264a86" stroke-width="0.7"/>
<line x1="155.20" y1="265.05" x2="155.20" y2="269.75" stroke="#264a86" stroke-width="0.7"/>
<line x1="166.60" y1="265.05" x2="166.60" y2="269.75" stroke="#264a86" stroke-width="0.7"/>
<line x1="192.30" y1="265.05" x2="192.30" y2="269.75" stroke="#264a86" stroke-width="0.7"/>
<line x1="213.60" y1="265.05" x2="213.60" y2="269.75" stroke="#264a86" stroke-width="0.7"/>
<line x1="218.90" y1="265.05" x2="218.90" y2="269.75" stroke="#264a86" stroke-width="0.7"/>
<line x1="227.00" y1="265.05" x2="227.00" y2="269.75" stroke="#264a86" stroke-width="0.7"/>
<text x="169.00" y="352.60" font-size="7.6" fill="#111" text-anchor="start" stroke="#111" stroke-width="0.2" textLength="55.30" lengthAdjust="spacingAndGlyphs">Log-rank P=0.01</text>
<text x="170.70" y="376.40" font-size="7.6" fill="#111" text-anchor="start" stroke="#111" stroke-width="0.12" textLength="62.20" lengthAdjust="spacingAndGlyphs">2-year PFS (95%CI)</text>
<line x1="152.70" y1="384.70" x2="161.40" y2="384.70" stroke="#a3142f" stroke-width="1.3"/>
<line x1="152.70" y1="394.30" x2="161.40" y2="394.30" stroke="#264a86" stroke-width="1.3"/>
<text x="164.60" y="386.80" font-size="7.9" fill="#111" text-anchor="start" stroke="#111" stroke-width="0.12" textLength="86.20" lengthAdjust="spacingAndGlyphs">Chemo: 43.8% (25.1–76.3)</text>
<text x="164.60" y="396.00" font-size="7.9" fill="#111" text-anchor="start" stroke="#111" stroke-width="0.12" textLength="37.90" lengthAdjust="spacingAndGlyphs">CMT: 100%</text>
<text x="6.50" y="443.80" font-size="8.1" fill="#111" text-anchor="start" stroke="#111" stroke-width="0.2" textLength="47.80" lengthAdjust="spacingAndGlyphs">Number at risk</text>
<text x="54.00" y="455.80" font-size="8.2" fill="#b8304e" text-anchor="end" stroke="#b8304e" stroke-width="0.2" textLength="25.20" lengthAdjust="spacingAndGlyphs">Chemo:</text>
<text x="54.00" y="466.20" font-size="8.2" fill="#3b62a0" text-anchor="end" stroke="#3b62a0" stroke-width="0.2" textLength="17.80" lengthAdjust="spacingAndGlyphs">CMT:</text>
<text x="61.50" y="455.80" font-size="8.2" fill="#111" text-anchor="middle" stroke="#111" stroke-width="0.2" textLength="8.90" lengthAdjust="spacingAndGlyphs">16</text>
<text x="61.50" y="466.20" font-size="8.2" fill="#111" text-anchor="middle" stroke="#111" stroke-width="0.2" textLength="4.45" lengthAdjust="spacingAndGlyphs">8</text>
<text x="90.75" y="455.80" font-size="8.2" fill="#111" text-anchor="middle" stroke="#111" stroke-width="0.2" textLength="4.45" lengthAdjust="spacingAndGlyphs">6</text>
<text x="90.75" y="466.20" font-size="8.2" fill="#111" text-anchor="middle" stroke="#111" stroke-width="0.2" textLength="4.45" lengthAdjust="spacingAndGlyphs">7</text>
<text x="120.00" y="455.80" font-size="8.2" fill="#111" text-anchor="middle" stroke="#111" stroke-width="0.2" textLength="4.45" lengthAdjust="spacingAndGlyphs">2</text>
<text x="120.00" y="466.20" font-size="8.2" fill="#111" text-anchor="middle" stroke="#111" stroke-width="0.2" textLength="4.45" lengthAdjust="spacingAndGlyphs">7</text>
<text x="149.25" y="455.80" font-size="8.2" fill="#111" text-anchor="middle" stroke="#111" stroke-width="0.2" textLength="4.45" lengthAdjust="spacingAndGlyphs">0</text>
<text x="149.25" y="466.20" font-size="8.2" fill="#111" text-anchor="middle" stroke="#111" stroke-width="0.2" textLength="4.45" lengthAdjust="spacingAndGlyphs">6</text>
<text x="178.50" y="455.80" font-size="8.2" fill="#111" text-anchor="middle" stroke="#111" stroke-width="0.2" textLength="4.45" lengthAdjust="spacingAndGlyphs">0</text>
<text x="178.50" y="466.20" font-size="8.2" fill="#111" text-anchor="middle" stroke="#111" stroke-width="0.2" textLength="4.45" lengthAdjust="spacingAndGlyphs">4</text>
<text x="207.75" y="455.80" font-size="8.2" fill="#111" text-anchor="middle" stroke="#111" stroke-width="0.2" textLength="4.45" lengthAdjust="spacingAndGlyphs">0</text>
<text x="207.75" y="466.20" font-size="8.2" fill="#111" text-anchor="middle" stroke="#111" stroke-width="0.2" textLength="4.45" lengthAdjust="spacingAndGlyphs">3</text>
<text x="237.00" y="455.80" font-size="8.2" fill="#111" text-anchor="middle" stroke="#111" stroke-width="0.2" textLength="4.45" lengthAdjust="spacingAndGlyphs">0</text>
<text x="237.00" y="466.20" font-size="8.2" fill="#111" text-anchor="middle" stroke="#111" stroke-width="0.2" textLength="4.45" lengthAdjust="spacingAndGlyphs">0</text>
<text x="268.70" y="254.90" font-size="11" fill="#000" text-anchor="start" stroke="#000" stroke-width="0.3" font-weight="bold">D</text>
<text x="369.60" y="253.10" font-size="8.6" fill="#111" text-anchor="start" stroke="#111" stroke-width="0.2" textLength="86.30" lengthAdjust="spacingAndGlyphs">PET2-positive (DS≥4)</text>
<path d="M312.90,261.00 V408.00 H513.65" fill="none" stroke="#383838" stroke-width="1.5" stroke-linejoin="miter" stroke-linecap="butt"/>
<line x1="310.00" y1="400.50" x2="312.90" y2="400.50" stroke="#252525" stroke-width="1.05"/>
<text x="307.10" y="403.60" font-size="8.4" fill="#111" text-anchor="end" stroke="#111" stroke-width="0.2" textLength="10.90" lengthAdjust="spacingAndGlyphs">0.0</text>
<line x1="310.00" y1="373.88" x2="312.90" y2="373.88" stroke="#252525" stroke-width="1.05"/>
<text x="307.10" y="376.98" font-size="8.4" fill="#111" text-anchor="end" stroke="#111" stroke-width="0.2" textLength="10.90" lengthAdjust="spacingAndGlyphs">0.2</text>
<line x1="310.00" y1="347.26" x2="312.90" y2="347.26" stroke="#252525" stroke-width="1.05"/>
<text x="307.10" y="350.36" font-size="8.4" fill="#111" text-anchor="end" stroke="#111" stroke-width="0.2" textLength="10.90" lengthAdjust="spacingAndGlyphs">0.4</text>
<line x1="310.00" y1="320.64" x2="312.90" y2="320.64" stroke="#252525" stroke-width="1.05"/>
<text x="307.10" y="323.74" font-size="8.4" fill="#111" text-anchor="end" stroke="#111" stroke-width="0.2" textLength="10.90" lengthAdjust="spacingAndGlyphs">0.6</text>
<line x1="310.00" y1="294.02" x2="312.90" y2="294.02" stroke="#252525" stroke-width="1.05"/>
<text x="307.10" y="297.12" font-size="8.4" fill="#111" text-anchor="end" stroke="#111" stroke-width="0.2" textLength="10.90" lengthAdjust="spacingAndGlyphs">0.8</text>
<line x1="310.00" y1="267.40" x2="312.90" y2="267.40" stroke="#252525" stroke-width="1.05"/>
<text x="307.10" y="270.50" font-size="8.4" fill="#111" text-anchor="end" stroke="#111" stroke-width="0.2" textLength="10.90" lengthAdjust="spacingAndGlyphs">1.0</text>
<line x1="323.40" y1="408.00" x2="323.40" y2="411.10" stroke="#252525" stroke-width="1.05"/>
<text x="323.40" y="419.50" font-size="8.4" fill="#111" text-anchor="middle" stroke="#111" stroke-width="0.2" textLength="4.35" lengthAdjust="spacingAndGlyphs">0</text>
<line x1="352.65" y1="408.00" x2="352.65" y2="411.10" stroke="#252525" stroke-width="1.05"/>
<text x="352.65" y="419.50" font-size="8.4" fill="#111" text-anchor="middle" stroke="#111" stroke-width="0.2" textLength="8.70" lengthAdjust="spacingAndGlyphs">20</text>
<line x1="381.90" y1="408.00" x2="381.90" y2="411.10" stroke="#252525" stroke-width="1.05"/>
<text x="381.90" y="419.50" font-size="8.4" fill="#111" text-anchor="middle" stroke="#111" stroke-width="0.2" textLength="8.70" lengthAdjust="spacingAndGlyphs">40</text>
<line x1="411.15" y1="408.00" x2="411.15" y2="411.10" stroke="#252525" stroke-width="1.05"/>
<text x="411.15" y="419.50" font-size="8.4" fill="#111" text-anchor="middle" stroke="#111" stroke-width="0.2" textLength="8.70" lengthAdjust="spacingAndGlyphs">60</text>
<line x1="440.40" y1="408.00" x2="440.40" y2="411.10" stroke="#252525" stroke-width="1.05"/>
<text x="440.40" y="419.50" font-size="8.4" fill="#111" text-anchor="middle" stroke="#111" stroke-width="0.2" textLength="8.70" lengthAdjust="spacingAndGlyphs">80</text>
<line x1="469.65" y1="408.00" x2="469.65" y2="411.10" stroke="#252525" stroke-width="1.05"/>
<text x="469.65" y="419.50" font-size="8.4" fill="#111" text-anchor="middle" stroke="#111" stroke-width="0.2" textLength="13.05" lengthAdjust="spacingAndGlyphs">100</text>
<line x1="498.90" y1="408.00" x2="498.90" y2="411.10" stroke="#252525" stroke-width="1.05"/>
<text x="498.90" y="419.50" font-size="8.4" fill="#111" text-anchor="middle" stroke="#111" stroke-width="0.2" textLength="13.05" lengthAdjust="spacingAndGlyphs">120</text>
<text x="413.27" y="431.80" font-size="9.0" fill="#111" text-anchor="middle" stroke="#111" stroke-width="0.42" textLength="41.30" lengthAdjust="spacingAndGlyphs">Time (months)</text>
<text x="0" y="0" font-size="9.2" fill="#111" stroke="#111" stroke-width="0.45" text-anchor="middle" textLength="37.4" lengthAdjust="spacingAndGlyphs" transform="translate(289.50,334.45) rotate(-90)">PFS rate (%)</text>
<path d="M323.60,267.40 H323.60 V279.50 H324.90 V291.60 H326.40 V303.70 H327.90 V315.80 H328.60 V340.00 H333.50 V364.20 H346.70 V376.30 H382.30" fill="none" stroke="#a3142f" stroke-width="1.3" stroke-linejoin="miter" stroke-linecap="butt"/>
<line x1="355.00" y1="373.95" x2="355.00" y2="378.65" stroke="#a3142f" stroke-width="0.7"/>
<line x1="382.00" y1="373.95" x2="382.00" y2="378.65" stroke="#a3142f" stroke-width="0.7"/>
<path d="M322.90,267.40 H482.00" fill="none" stroke="#264a86" stroke-width="1.3" stroke-linejoin="miter" stroke-linecap="butt"/>
<line x1="348.60" y1="265.05" x2="348.60" y2="269.75" stroke="#264a86" stroke-width="0.7"/>
<line x1="399.60" y1="265.05" x2="399.60" y2="269.75" stroke="#264a86" stroke-width="0.7"/>
<line x1="416.80" y1="265.05" x2="416.80" y2="269.75" stroke="#264a86" stroke-width="0.7"/>
<line x1="482.00" y1="265.05" x2="482.00" y2="269.75" stroke="#264a86" stroke-width="0.7"/>
<text x="433.60" y="352.60" font-size="7.6" fill="#111" text-anchor="start" stroke="#111" stroke-width="0.2" textLength="55.00" lengthAdjust="spacingAndGlyphs">Log-rank P=0.02</text>
<text x="430.20" y="376.40" font-size="7.6" fill="#111" text-anchor="start" stroke="#111" stroke-width="0.12" textLength="62.20" lengthAdjust="spacingAndGlyphs">2-year PFS (95%CI)</text>
<line x1="414.60" y1="384.70" x2="423.30" y2="384.70" stroke="#a3142f" stroke-width="1.3"/>
<line x1="414.60" y1="394.30" x2="423.30" y2="394.30" stroke="#264a86" stroke-width="1.3"/>
<text x="426.50" y="386.40" font-size="7.9" fill="#111" text-anchor="start" stroke="#111" stroke-width="0.12" textLength="81.80" lengthAdjust="spacingAndGlyphs">Chemo: 18.2% (5.2–63.7)</text>
<text x="426.50" y="396.00" font-size="7.9" fill="#111" text-anchor="start" stroke="#111" stroke-width="0.12" textLength="37.90" lengthAdjust="spacingAndGlyphs">CMT: 100%</text>
<text x="268.40" y="443.80" font-size="8.1" fill="#111" text-anchor="start" stroke="#111" stroke-width="0.2" textLength="47.80" lengthAdjust="spacingAndGlyphs">Number at risk</text>
<text x="315.90" y="455.80" font-size="8.2" fill="#b8304e" text-anchor="end" stroke="#b8304e" stroke-width="0.2" textLength="25.20" lengthAdjust="spacingAndGlyphs">Chemo:</text>
<text x="315.90" y="466.20" font-size="8.2" fill="#3b62a0" text-anchor="end" stroke="#3b62a0" stroke-width="0.2" textLength="17.80" lengthAdjust="spacingAndGlyphs">CMT:</text>
<text x="323.40" y="455.80" font-size="8.2" fill="#111" text-anchor="middle" stroke="#111" stroke-width="0.2" textLength="8.90" lengthAdjust="spacingAndGlyphs">11</text>
<text x="323.40" y="466.20" font-size="8.2" fill="#111" text-anchor="middle" stroke="#111" stroke-width="0.2" textLength="4.45" lengthAdjust="spacingAndGlyphs">4</text>
<text x="352.65" y="455.80" font-size="8.2" fill="#111" text-anchor="middle" stroke="#111" stroke-width="0.2" textLength="4.45" lengthAdjust="spacingAndGlyphs">2</text>
<text x="352.65" y="466.20" font-size="8.2" fill="#111" text-anchor="middle" stroke="#111" stroke-width="0.2" textLength="4.45" lengthAdjust="spacingAndGlyphs">3</text>
<text x="381.90" y="455.80" font-size="8.2" fill="#111" text-anchor="middle" stroke="#111" stroke-width="0.2" textLength="4.45" lengthAdjust="spacingAndGlyphs">0</text>
<text x="381.90" y="466.20" font-size="8.2" fill="#111" text-anchor="middle" stroke="#111" stroke-width="0.2" textLength="4.45" lengthAdjust="spacingAndGlyphs">3</text>
<text x="411.15" y="455.80" font-size="8.2" fill="#111" text-anchor="middle" stroke="#111" stroke-width="0.2" textLength="4.45" lengthAdjust="spacingAndGlyphs">0</text>
<text x="411.15" y="466.20" font-size="8.2" fill="#111" text-anchor="middle" stroke="#111" stroke-width="0.2" textLength="4.45" lengthAdjust="spacingAndGlyphs">2</text>
<text x="440.40" y="455.80" font-size="8.2" fill="#111" text-anchor="middle" stroke="#111" stroke-width="0.2" textLength="4.45" lengthAdjust="spacingAndGlyphs">0</text>
<text x="440.40" y="466.20" font-size="8.2" fill="#111" text-anchor="middle" stroke="#111" stroke-width="0.2" textLength="4.45" lengthAdjust="spacingAndGlyphs">1</text>
<text x="469.65" y="455.80" font-size="8.2" fill="#111" text-anchor="middle" stroke="#111" stroke-width="0.2" textLength="4.45" lengthAdjust="spacingAndGlyphs">0</text>
<text x="469.65" y="466.20" font-size="8.2" fill="#111" text-anchor="middle" stroke="#111" stroke-width="0.2" textLength="4.45" lengthAdjust="spacingAndGlyphs">1</text>
<text x="498.90" y="455.80" font-size="8.2" fill="#111" text-anchor="middle" stroke="#111" stroke-width="0.2" textLength="4.45" lengthAdjust="spacingAndGlyphs">0</text>
<text x="498.90" y="466.20" font-size="8.2" fill="#111" text-anchor="middle" stroke="#111" stroke-width="0.2" textLength="4.45" lengthAdjust="spacingAndGlyphs">0</text>
</g>
</svg></div></body></html>
